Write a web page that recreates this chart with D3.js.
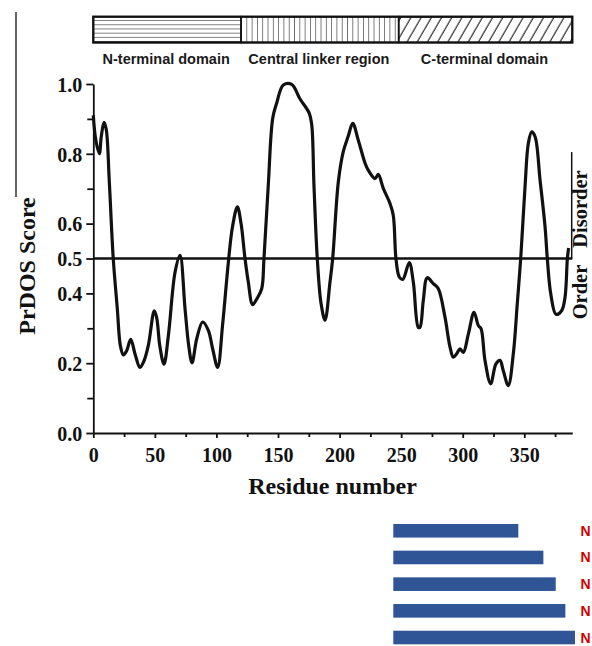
<!DOCTYPE html>
<html>
<head>
<meta charset="utf-8">
<script src="https://cdn.jsdelivr.net/npm/d3@7"></script>
<style>
  html, body { margin: 0; padding: 0; background: #fff; }
  svg { display: block; }
</style>
</head>
<body>
<svg id="chart" width="592" height="646"></svg>
<script>
// PrDOS disorder profile: residue positions and predicted scores
const residues = [0, 2, 4.9, 6.5, 8.7, 10.5, 13, 16.2, 19.5, 22, 24.4, 27, 30.4, 34, 37.9, 41, 44.7, 49.5, 51.5, 54,
  57.4, 61, 66.4, 70.4, 74.5, 77.5, 80.2, 84, 88.8, 93.4, 97, 101, 105, 109.7, 113, 117, 120, 123.2, 125.9, 129.4,
  133.2, 136.8, 138.6, 142.1, 145.7, 148.9, 154.3, 161.1, 167.9, 175.4, 177.4, 179.2, 181.9, 185, 188.2, 192.2,
  194.4, 199, 203, 207, 210.7, 215.2, 220.7, 223.3, 228.8, 231.4, 235.5, 240.9, 243.6, 245.8, 248.5, 251.3, 256.6,
  259.9, 263.9, 265.3, 268, 271.2, 276.1, 280.1, 285.6, 289.7, 292.4, 295.1, 297.8, 300.5, 304.6, 309.2, 312.7,
  314.9, 318.1, 322.7, 327, 330.3, 332.9, 337, 341.1, 344.3, 347.1, 350.6, 353.3, 356, 358.8, 362.8, 366.9, 368.7,
  371.5, 375.8, 380.4, 383.1, 385, 386];
const scores = [0.91, 0.84, 0.80, 0.85, 0.89, 0.87, 0.72, 0.50, 0.356, 0.25, 0.224, 0.235, 0.268, 0.225, 0.188, 0.205,
  0.251, 0.350, 0.33, 0.25, 0.197, 0.28, 0.461, 0.509, 0.356, 0.25, 0.201, 0.27, 0.318, 0.294, 0.24, 0.188, 0.31,
  0.49, 0.59, 0.648, 0.60, 0.50, 0.432, 0.368, 0.387, 0.414, 0.50, 0.71, 0.902, 0.945, 0.997, 0.999, 0.957, 0.916,
  0.883, 0.71, 0.50, 0.37, 0.323, 0.432, 0.50, 0.72, 0.806, 0.85, 0.887, 0.839, 0.773, 0.753, 0.729, 0.741, 0.701,
  0.658, 0.624, 0.50, 0.447, 0.44, 0.488, 0.432, 0.303, 0.303, 0.38, 0.445, 0.428, 0.414, 0.332, 0.246, 0.217,
  0.227, 0.241, 0.231, 0.284, 0.346, 0.308, 0.299, 0.208, 0.141, 0.198, 0.208, 0.179, 0.136, 0.227, 0.37, 0.50,
  0.705, 0.83, 0.863, 0.849, 0.725, 0.59, 0.50, 0.399, 0.34, 0.351, 0.389, 0.50, 0.53];

const residueCount = 389;
const threshold = 0.5;
const disorderMarker = [0.5, 0.805];

// Domain architecture along the sequence
const domainNames = ["N-terminal domain", "Central linker region", "C-terminal domain"];
const domainStarts = [0, 120, 248];
const domainEnds = [120, 248, 389];
const domainFills = ["hlines", "vlines", "diag"];

// Axis ticks
const yMajorTicks = [0, 0.2, 0.4, 0.5, 0.6, 0.8, 1.0];
const yMinorTicks = [0.1, 0.3, 0.7, 0.9];
const xMajorTicks = [0, 50, 100, 150, 200, 250, 300, 350];
const xMinorTicks = [25, 75, 125, 175, 225, 275, 325, 375];

// Inset bar panel (relative lengths)
const barLabels = ["N", "N", "N", "N", "N"];
const barValues = [68.8, 82.6, 89.4, 94.7, 100];

const svg = d3.select("#chart");
const serif = "'Liberation Serif', 'Times New Roman', serif";
const sans = "'Liberation Sans', Arial, sans-serif";

const x = d3.scaleLinear().domain([0, residueCount]).range([93.3, 572.3]);
const y = d3.scaleLinear().domain([0, 1]).range([433, 84]);

// ---- hatch patterns for the domain bar ----
const defs = svg.append("defs");
const ph = defs.append("pattern").attr("id", "hlines").attr("patternUnits", "userSpaceOnUse")
  .attr("width", 8).attr("height", 4.15).attr("y", 16.1);
ph.append("line").attr("x1", 0).attr("x2", 8).attr("y1", 0).attr("y2", 0)
  .attr("stroke", "#111").attr("stroke-width", 1.1);
const pv = defs.append("pattern").attr("id", "vlines").attr("patternUnits", "userSpaceOnUse")
  .attr("width", 5.3).attr("height", 8).attr("x", x(120));
pv.append("line").attr("x1", 0).attr("x2", 0).attr("y1", 0).attr("y2", 8)
  .attr("stroke", "#111").attr("stroke-width", 1.1);
const pd = defs.append("pattern").attr("id", "diag").attr("patternUnits", "userSpaceOnUse")
  .attr("width", 10.2).attr("height", 40).attr("patternTransform", "skewX(-30)").attr("x", x(248));
pd.append("line").attr("x1", 2).attr("x2", 2).attr("y1", 0).attr("y2", 40)
  .attr("stroke", "#111").attr("stroke-width", 1.2);

// ---- domain bar ----
const barTop = 16.7, barBottom = 42.5;
const dom = svg.append("g");
domainNames.forEach((name, i) => {
  dom.append("rect")
    .attr("x", x(domainStarts[i])).attr("y", barTop)
    .attr("width", x(domainEnds[i]) - x(domainStarts[i])).attr("height", barBottom - barTop)
    .attr("fill", "url(#" + domainFills[i] + ")")
    .attr("stroke", "#111").attr("stroke-width", 1.6);
  dom.append("text")
    .attr("x", (x(domainStarts[i]) + x(domainEnds[i])) / 2 - 1)
    .attr("y", 64)
    .attr("text-anchor", "middle")
    .attr("font-family", sans).attr("font-weight", "bold").attr("font-size", 14.5)
    .attr("fill", "#1a1a1a")
    .text(name);
});
dom.append("rect").attr("x", x(0)).attr("y", barTop)
  .attr("width", x(residueCount) - x(0)).attr("height", barBottom - barTop)
  .attr("fill", "none").attr("stroke", "#111").attr("stroke-width", 2.2);

// ---- left frame line ----
svg.append("line").attr("x1", 16).attr("x2", 16).attr("y1", 12).attr("y2", 197)
  .attr("stroke", "#111").attr("stroke-width", 1.3);

// ---- axes ----
function styleAxis(g) {
  g.selectAll("path, line").attr("stroke", "#111").attr("stroke-width", 1.8);
  g.selectAll("text").attr("font-family", serif).attr("font-weight", "bold")
    .attr("font-size", 20).attr("fill", "#111");
}
const yAxis = svg.append("g").attr("transform", `translate(${x(0)},0)`)
  .call(d3.axisLeft(y).tickValues(yMajorTicks).tickFormat(d3.format(".1f"))
    .tickSize(7).tickSizeOuter(0).tickPadding(4));
styleAxis(yAxis);
yAxis.selectAll("text").attr("dy", "0.36em");
const yMinor = svg.append("g").attr("transform", `translate(${x(0)},0)`)
  .call(d3.axisLeft(y).tickValues(yMinorTicks).tickFormat("").tickSize(6).tickSizeOuter(0));
styleAxis(yMinor);
yMinor.select(".domain").remove();

const xAxis = svg.append("g").attr("transform", `translate(0,${y(0)})`)
  .call(d3.axisBottom(x).tickValues(xMajorTicks).tickFormat(d3.format("d"))
    .tickSize(5).tickSizeOuter(0).tickPadding(10));
styleAxis(xAxis);
const xMinor = svg.append("g").attr("transform", `translate(0,${y(0)})`)
  .call(d3.axisBottom(x).tickValues(xMinorTicks).tickFormat("").tickSize(4).tickSizeOuter(0));
styleAxis(xMinor);
xMinor.select(".domain").remove();

// ---- axis titles ----
svg.append("text")
  .attr("transform", "translate(35,266) rotate(-90)")
  .attr("text-anchor", "middle")
  .attr("font-family", serif).attr("font-weight", "bold").attr("font-size", 24).attr("fill", "#111")
  .text("PrDOS Score");
svg.append("text")
  .attr("x", 332.5).attr("y", 494)
  .attr("text-anchor", "middle")
  .attr("font-family", serif).attr("font-weight", "bold").attr("font-size", 24).attr("fill", "#111")
  .text("Residue number");

// ---- threshold line ----
svg.append("line")
  .attr("x1", x(0)).attr("x2", x(residueCount))
  .attr("y1", y(threshold)).attr("y2", y(threshold))
  .attr("stroke", "#111").attr("stroke-width", 2.4);

// ---- disorder profile ----
const profile = residues.map((r, i) => [r, scores[i]]);
svg.append("path")
  .datum(profile)
  .attr("fill", "none")
  .attr("stroke", "#111")
  .attr("stroke-width", 3.2)
  .attr("stroke-linejoin", "round")
  .attr("d", d3.line().x(d => x(d[0])).y(d => y(d[1])).curve(d3.curveCatmullRom.alpha(0.5)));

// ---- order / disorder marker ----
svg.append("line")
  .attr("x1", x(residueCount) - 0.6).attr("x2", x(residueCount) - 0.6)
  .attr("y1", y(disorderMarker[0])).attr("y2", y(disorderMarker[1]))
  .attr("stroke", "#111").attr("stroke-width", 1.5);
svg.append("text")
  .attr("transform", "translate(587,209) rotate(-90)")
  .attr("text-anchor", "middle")
  .attr("font-family", serif).attr("font-weight", "bold").attr("font-size", 20.5).attr("fill", "#111")
  .text("Disorder");
svg.append("text")
  .attr("transform", "translate(587,292) rotate(-90)")
  .attr("text-anchor", "middle")
  .attr("font-family", serif).attr("font-weight", "bold").attr("font-size", 20.5).attr("fill", "#111")
  .text("Order");

// ---- inset horizontal bars ----
const bx = d3.scaleLinear().domain([0, 100]).range([393.3, 575]);
const by = d3.scaleBand().domain(d3.range(barValues.length)).range([517.3, 651]).paddingInner(0.49).paddingOuter(0.25);
const bars = svg.append("g");
bars.selectAll("rect").data(barValues).join("rect")
  .attr("x", bx(0)).attr("y", (d, i) => by(i))
  .attr("width", d => bx(d) - bx(0)).attr("height", by.bandwidth())
  .attr("fill", "#2f5597");
bars.selectAll("text").data(barLabels).join("text")
  .attr("x", 580.5).attr("y", (d, i) => by(i) + by.bandwidth() / 2 + 5)
  .attr("font-family", sans).attr("font-weight", "bold").attr("font-size", 14)
  .attr("fill", "#d40000")
  .text(d => d);
</script>
</body>
</html>
